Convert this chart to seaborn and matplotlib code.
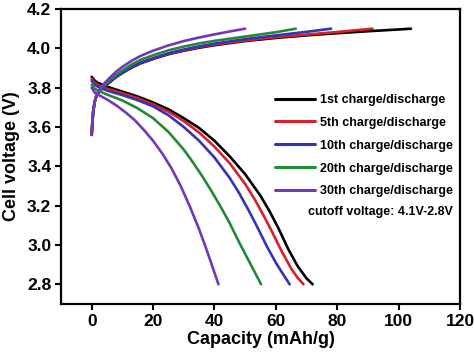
import numpy as np
import pandas as pd
import matplotlib
matplotlib.use("Agg")
import matplotlib.pyplot as plt
import seaborn as sns

cycles = ["1st charge/discharge", "5th charge/discharge", "10th charge/discharge",
          "20th charge/discharge", "30th charge/discharge"]
colors = ["#000000", "#d8202c", "#3434b4", "#24883a", "#7436bc"]

# charge curves (capacity mAh/g, voltage V)
charge_x_1 = [0, 0.2, 0.5, 1, 1.5, 2, 3, 4, 6, 8, 10, 13, 16, 20, 25, 30, 35, 40, 50, 60, 70, 80, 90, 100, 104]
charge_y_1 = [3.56, 3.62, 3.68, 3.73, 3.755, 3.77, 3.79, 3.805, 3.83, 3.855, 3.875, 3.902, 3.924, 3.946, 3.97, 3.988, 4.003, 4.016, 4.037, 4.053, 4.066, 4.077, 4.087, 4.096, 4.10]
charge_x_5 = [0, 0.2, 0.5, 1, 1.5, 2, 3, 4, 6, 8, 10, 13, 16, 20, 25, 30, 35, 40, 50, 60, 70, 80, 91.5]
charge_y_5 = [3.56, 3.62, 3.68, 3.73, 3.755, 3.77, 3.79, 3.805, 3.83, 3.855, 3.875, 3.903, 3.926, 3.948, 3.972, 3.99, 4.006, 4.019, 4.04, 4.057, 4.07, 4.083, 4.10]
charge_x_10 = [0, 0.2, 0.5, 1, 1.5, 2, 3, 4, 6, 8, 10, 13, 16, 20, 25, 30, 35, 40, 50, 60, 70, 78]
charge_y_10 = [3.56, 3.62, 3.68, 3.73, 3.755, 3.77, 3.79, 3.805, 3.83, 3.855, 3.876, 3.905, 3.928, 3.95, 3.975, 3.994, 4.01, 4.024, 4.047, 4.066, 4.084, 4.10]
charge_x_20 = [0, 0.2, 0.5, 1, 1.5, 2, 3, 4, 6, 8, 10, 13, 16, 20, 25, 30, 35, 40, 50, 60, 66.5]
charge_y_20 = [3.56, 3.62, 3.68, 3.73, 3.757, 3.774, 3.796, 3.812, 3.84, 3.866, 3.888, 3.918, 3.942, 3.965, 3.99, 4.009, 4.025, 4.038, 4.06, 4.082, 4.10]
charge_x_30 = [0, 0.2, 0.5, 1, 1.5, 2, 3, 4, 6, 8, 10, 13, 16, 20, 25, 30, 35, 40, 45, 50]
charge_y_30 = [3.56, 3.62, 3.68, 3.73, 3.76, 3.778, 3.802, 3.82, 3.852, 3.882, 3.906, 3.937, 3.962, 3.988, 4.015, 4.037, 4.055, 4.071, 4.086, 4.10]

# discharge curves
dis_x_1 = [0, 1, 2, 5, 10, 15, 20, 25, 30, 35, 40, 45, 50, 55, 58, 61, 64, 67, 70, 72]
dis_y_1 = [3.855, 3.835, 3.825, 3.805, 3.78, 3.755, 3.725, 3.69, 3.645, 3.595, 3.53, 3.45, 3.36, 3.25, 3.17, 3.08, 2.98, 2.895, 2.83, 2.80]
dis_x_5 = [0, 1, 2, 5, 10, 15, 20, 25, 30, 35, 40, 45, 50, 53, 56, 59, 62, 65, 67, 69]
dis_y_5 = [3.845, 3.825, 3.815, 3.795, 3.772, 3.746, 3.715, 3.678, 3.63, 3.572, 3.50, 3.415, 3.31, 3.235, 3.15, 3.06, 2.965, 2.88, 2.835, 2.80]
dis_x_10 = [0, 1, 2, 5, 10, 15, 20, 25, 30, 35, 40, 45, 48, 51, 54, 57, 60, 62, 64.5]
dis_y_10 = [3.835, 3.815, 3.805, 3.785, 3.762, 3.736, 3.705, 3.66, 3.60, 3.53, 3.445, 3.34, 3.265, 3.18, 3.09, 2.995, 2.91, 2.86, 2.80]
dis_x_20 = [0, 1, 2, 5, 10, 15, 20, 25, 30, 33, 36, 39, 42, 45, 48, 51, 53, 55.2]
dis_y_20 = [3.815, 3.795, 3.785, 3.765, 3.735, 3.695, 3.645, 3.575, 3.485, 3.42, 3.35, 3.275, 3.195, 3.11, 3.015, 2.925, 2.865, 2.80]
dis_x_30 = [0, 1, 2, 5, 8, 11, 14, 17, 20, 23, 26, 29, 32, 35, 37, 39, 41.3]
dis_y_30 = [3.80, 3.775, 3.765, 3.74, 3.71, 3.675, 3.635, 3.585, 3.53, 3.465, 3.39, 3.30, 3.195, 3.08, 2.995, 2.905, 2.80]

x_ticks = [0, 20, 40, 60, 80, 100, 120]
y_ticks = [2.8, 3.0, 3.2, 3.4, 3.6, 3.8, 4.0, 4.2]

charges = [(charge_x_1, charge_y_1), (charge_x_5, charge_y_5), (charge_x_10, charge_y_10),
           (charge_x_20, charge_y_20), (charge_x_30, charge_y_30)]
discharges = [(dis_x_1, dis_y_1), (dis_x_5, dis_y_5), (dis_x_10, dis_y_10),
              (dis_x_20, dis_y_20), (dis_x_30, dis_y_30)]

rows = []
for name, (cx, cy), (dx, dy) in zip(cycles, charges, discharges):
    for x, y in zip(cx, cy):
        rows.append((name, "charge", x, y))
    for x, y in zip(dx, dy):
        rows.append((name, "discharge", x, y))
df = pd.DataFrame(rows, columns=["cycle", "segment", "capacity", "voltage"])

sns.set_style("ticks")
plt.rcParams["font.family"] = ["Liberation Sans", "DejaVu Sans"]
plt.rcParams["font.weight"] = "bold"
for k in ["text.color", "axes.labelcolor", "xtick.color", "ytick.color", "axes.edgecolor"]:
    plt.rcParams[k] = "black"

fig = plt.figure(figsize=(4.74, 3.55), dpi=100)
ax = fig.add_axes([0.1287, 0.1437, 0.8418, 0.8309])

sns.lineplot(data=df, x="capacity", y="voltage", hue="cycle", units="segment",
             estimator=None, sort=False, hue_order=cycles, palette=colors,
             linewidth=1.9, ax=ax)

ax.set_xlim(-10, 120)
ax.set_ylim(2.7, 4.2)
ax.set_xticks(x_ticks)
ax.set_yticks(y_ticks)
ax.set_yticklabels([f"{v:.1f}" for v in y_ticks])
ax.set_xlabel("Capacity (mAh/g)", fontsize=13, fontweight="bold", labelpad=2)
ax.set_ylabel("Cell voltage (V)", fontsize=13, fontweight="bold", labelpad=5)
ax.tick_params(axis="both", direction="out", length=4, width=1.5, labelsize=12.5, pad=3,
               colors="black")
for lab in ax.get_xticklabels() + ax.get_yticklabels():
    lab.set_fontweight("bold")
for sp in ax.spines.values():
    sp.set_visible(True)
    sp.set_linewidth(1.6)
    sp.set_color("black")

handles, labels = ax.get_legend_handles_labels()
leg = ax.legend(handles, labels, loc="upper left", bbox_to_anchor=(0.537, 0.712),
                frameon=False, handlelength=3.2, handletextpad=0.4,
                labelspacing=0.87, borderpad=0, borderaxespad=0,
                prop={"weight": "bold", "size": 9})
for line in leg.get_lines():
    line.set_linewidth(2.2)

ax.text(0.982, 0.313, "cutoff voltage: 4.1V-2.8V", transform=ax.transAxes,
        ha="right", va="center", fontsize=9, fontweight="bold")

fig.savefig("out.png", dpi=100)
